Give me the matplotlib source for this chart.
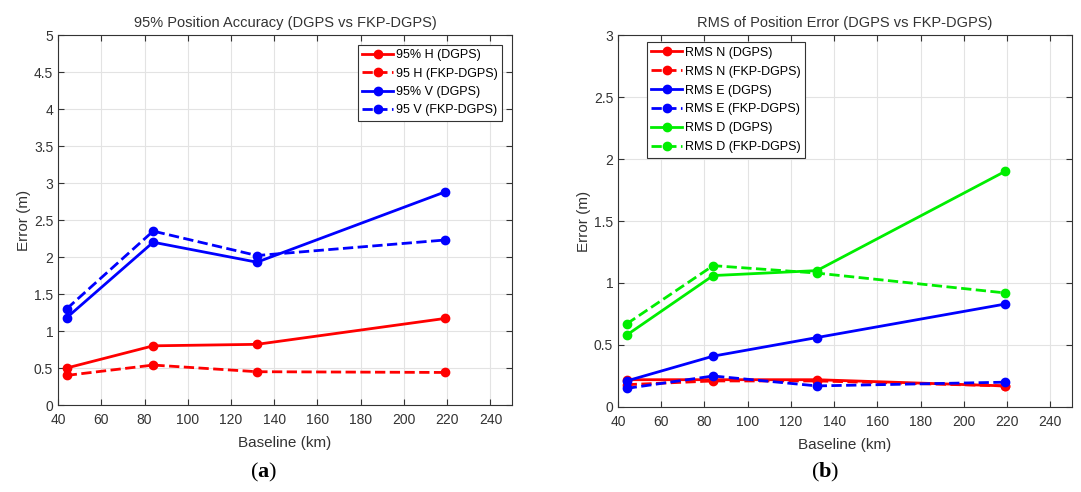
import matplotlib.pyplot as plt

baseline = [44, 84, 132, 219]

# panel (a)
h_dgps = [0.50, 0.80, 0.82, 1.17]
h_fkp = [0.40, 0.54, 0.45, 0.44]
v_dgps = [1.18, 2.20, 1.93, 2.88]
v_fkp = [1.30, 2.35, 2.02, 2.23]

# panel (b)
n_dgps = [0.22, 0.22, 0.22, 0.17]
n_fkp = [0.18, 0.21, 0.21, 0.17]
e_dgps = [0.21, 0.41, 0.56, 0.83]
e_fkp = [0.15, 0.25, 0.17, 0.20]
d_dgps = [0.58, 1.06, 1.10, 1.90]
d_fkp = [0.67, 1.14, 1.08, 0.92]

plt.rcParams['font.family'] = ['Liberation Sans', 'DejaVu Sans']
plt.rcParams['mathtext.fontset'] = 'custom'
plt.rcParams['mathtext.rm'] = 'Liberation Serif'
plt.rcParams['mathtext.bf'] = 'Liberation Serif:bold'
txt = '#333333'

fig = plt.figure(figsize=(10.81, 4.92), dpi=100)
ax1 = fig.add_axes([0.0537, 0.1768, 0.42, 0.752])
ax2 = fig.add_axes([0.5717, 0.1728, 0.42, 0.756])


def style_ax(ax, ymax, yticks):
    ax.set_xlim(40, 250)
    ax.set_ylim(0, ymax)
    ax.set_xticks(range(40, 241, 20))
    ax.set_yticks(yticks)
    ax.set_yticklabels(['%g' % t for t in yticks])
    ax.grid(True, color='#e3e3e3', linewidth=0.8)
    ax.set_axisbelow(True)
    ax.tick_params(direction='in', top=True, right=True, labelsize=10,
                   colors=txt, length=4)
    ax.tick_params(axis='x', pad=6)
    for s in ax.spines.values():
        s.set_color('#333333')
        s.set_linewidth(0.8)
    ax.set_xlabel('Baseline (km)', fontsize=11, color=txt, labelpad=6)
    ax.set_ylabel('Error (m)', fontsize=11, color=txt, labelpad=2)


kw = dict(marker='o', markersize=6, linewidth=2)

ax1.plot(baseline, h_dgps, '-', color='#ff0000', label='95% H (DGPS)', **kw)
ax1.plot(baseline, h_fkp, '--', color='#ff0000', label='95 H (FKP-DGPS)', **kw)
ax1.plot(baseline, v_dgps, '-', color='#0000ff', label='95% V (DGPS)', **kw)
ax1.plot(baseline, v_fkp, '--', color='#0000ff', label='95 V (FKP-DGPS)', **kw)
style_ax(ax1, 5, [0, 0.5, 1, 1.5, 2, 2.5, 3, 3.5, 4, 4.5, 5])
ax1.set_title('95% Position Accuracy (DGPS vs FKP-DGPS)', fontsize=10.5,
              color=txt, pad=6)
leg1 = ax1.legend(loc='upper right', fontsize=9, handlelength=2.5,
                  fancybox=False, edgecolor='#333333', framealpha=1,
                  borderaxespad=0.8, labelspacing=0.5, handletextpad=0.2,
                  borderpad=0.35)
leg1.get_frame().set_linewidth(0.8)

ax2.plot(baseline, n_dgps, '-', color='#ff0000', label='RMS N (DGPS)', **kw)
ax2.plot(baseline, n_fkp, '--', color='#ff0000', label='RMS N (FKP-DGPS)', **kw)
ax2.plot(baseline, e_dgps, '-', color='#0000ff', label='RMS E (DGPS)', **kw)
ax2.plot(baseline, e_fkp, '--', color='#0000ff', label='RMS E (FKP-DGPS)', **kw)
ax2.plot(baseline, d_dgps, '-', color='#00ee00', label='RMS D (DGPS)', **kw)
ax2.plot(baseline, d_fkp, '--', color='#00ee00', label='RMS D (FKP-DGPS)', **kw)
style_ax(ax2, 3, [0, 0.5, 1, 1.5, 2, 2.5, 3])
ax2.set_title('RMS of Position Error (DGPS vs FKP-DGPS)', fontsize=10.5,
              color=txt, pad=6)
leg2 = ax2.legend(loc='upper left', fontsize=9, handlelength=2.5,
                  fancybox=False, edgecolor='#333333', framealpha=1,
                  borderaxespad=0.3, labelspacing=0.55, handletextpad=0.2,
                  borderpad=0.35, bbox_to_anchor=(0.055, 0.99))
leg2.get_frame().set_linewidth(0.8)

fig.text(0.244, 0.04, r'($\mathbf{a}$)', fontsize=16, ha='center',
         va='center', family='Liberation Serif', color='black')
fig.text(0.763, 0.04, r'($\mathbf{b}$)', fontsize=16, ha='center',
         va='center', family='Liberation Serif', color='black')

fig.savefig('out.png', dpi=100)
